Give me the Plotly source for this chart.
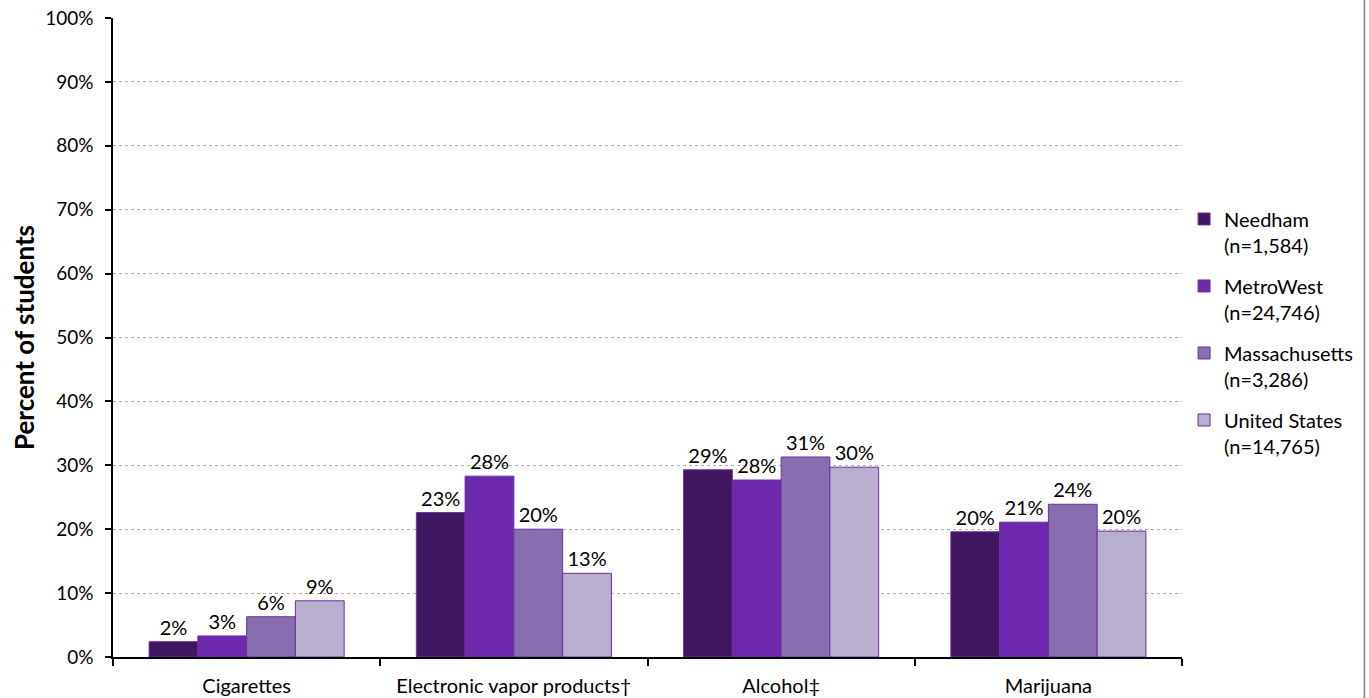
import plotly.graph_objects as go

categories = ["Cigarettes", "Electronic vapor products\u2020", "Alcohol\u2021", "Marijuana"]
series_names = ["Needham<br>(n=1,584)", "MetroWest<br>(n=24,746)",
                "Massachusetts<br>(n=3,286)", "United States<br>(n=14,765)"]
needham = [2.4, 22.6, 29.3, 19.6]
metrowest = [3.3, 28.3, 27.7, 21.1]
massachusetts = [6.3, 20.0, 31.3, 23.9]
united_states = [8.8, 13.1, 29.7, 19.7]
labels = [
    ["2%", "23%", "29%", "20%"],
    ["3%", "28%", "28%", "21%"],
    ["6%", "20%", "31%", "24%"],
    ["9%", "13%", "30%", "20%"],
]
y_ticks = [0, 10, 20, 30, 40, 50, 60, 70, 80, 90, 100]

colors = ["#3F1761", "#6C29AD", "#876EAF", "#B8AECE"]
FONT = "Lato, 'Open Sans', sans-serif"

fig = go.Figure()
for i, (name, vals, lab, col) in enumerate(zip(series_names,
                                [needham, metrowest, massachusetts, united_states],
                                labels, colors)):
    fig.add_trace(go.Bar(
        x=categories, y=vals, name=name, text=lab,
        legendgroup=f"g{i}",
        textposition="outside", cliponaxis=False,
        textfont=dict(size=20, color="black", family=FONT),
        marker=dict(color=col, line=dict(color="#7030A0", width=1)),
    ))

fig.update_layout(
    width=1369, height=698,
    margin=dict(l=113, r=186, t=18, b=41),
    paper_bgcolor="white", plot_bgcolor="white",
    barmode="group", bargap=0.27, bargroupgap=0,
    font=dict(family=FONT, size=20, color="black"),
    showlegend=True,
    legend=dict(x=1.001, y=0.716, xanchor="left", yanchor="top",
                font=dict(size=20, family=FONT), tracegroupgap=12,
                itemwidth=30, valign="top", bgcolor="rgba(0,0,0,0)"),
    xaxis=dict(showline=True, linecolor="black", linewidth=1.5,
               ticks="outside", tickson="boundaries", ticklen=7,
               tickcolor="black", tickwidth=1.5, ticklabelstandoff=10,
               automargin=False,
               tickfont=dict(size=20, family=FONT), showgrid=False),
    yaxis=dict(range=[0, 100], tickvals=y_ticks,
               ticktext=[f"{v}%" for v in y_ticks],
               showline=True, linecolor="black", linewidth=1.5,
               ticks="outside", ticklen=6, tickcolor="black", tickwidth=1.5,
               ticklabelstandoff=8, ticklabeloverflow="allow",
               automargin=False,
               showgrid=True, gridcolor="#ABABAB", griddash="dot", gridwidth=1,
               tickfont=dict(size=19, family=FONT),
               title=dict(text="<b>Percent of students</b>",
                          font=dict(size=26, family=FONT), standoff=3)),
    shapes=[dict(type="line", xref="paper", yref="paper",
                 x0=1.1706, x1=1.1706, y0=-0.08, y1=1.04,
                 line=dict(color="#808080", width=1.5))],
)

fig.write_html("out.html",
               config={"displayModeBar": False},
               post_script="document.body.style.margin='0';"
                           "document.body.style.overflow='hidden';")
